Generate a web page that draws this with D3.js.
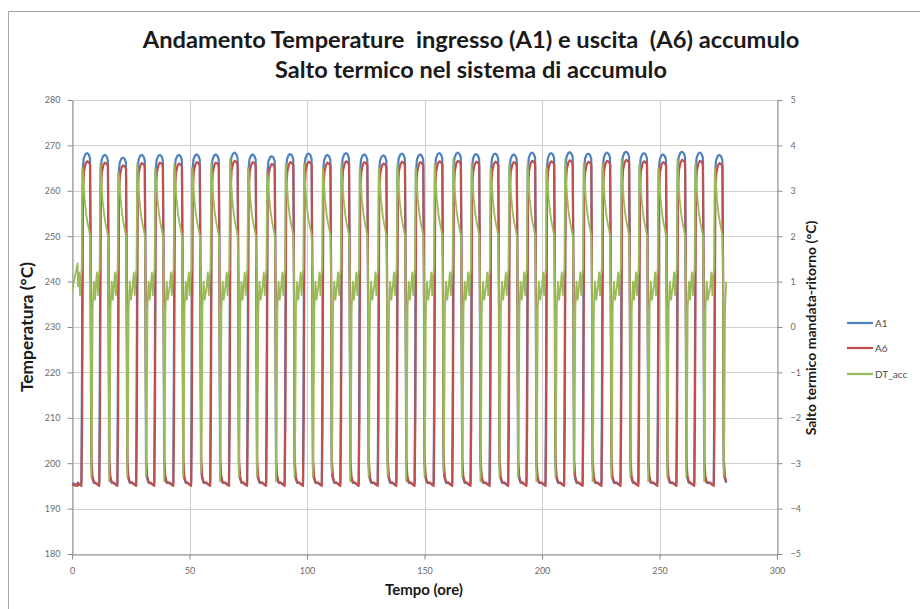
<!DOCTYPE html>
<html>
<head>
<meta charset="utf-8">
<script src="https://cdn.jsdelivr.net/npm/d3@7"></script>
<style>
  html, body { margin: 0; padding: 0; background: #fff; }
  svg { display: block; }
  text { font-family: Lato, "Open Sans", "DejaVu Sans", sans-serif; }
</style>
</head>
<body>
<svg id="chart" width="920" height="609"></svg>
<script>
// ---- data -------------------------------------------------------------
const seriesNames = ["A1", "A6", "DT_acc"];
const seriesColors = ["#4F81BD", "#C0504D", "#9BBB59"];

// time (h) of the top of each charge cycle
const cycleHours = [6.4, 14.0, 21.7, 29.7, 37.4, 45.5, 53.1, 61.2, 69.2, 76.9,
  85.0, 92.9, 100.7, 108.7, 116.6, 124.4, 132.5, 140.4, 148.2, 156.3,
  164.2, 172.0, 180.1, 188.0, 195.8, 203.9, 211.8, 219.7, 227.7, 235.8,
  243.4, 251.5, 259.6, 267.2, 275.5];

// maximum temperature per cycle (°C)
const a1Peaks = [268.3, 267.9, 267.3, 267.9, 267.9, 267.9, 268.0, 268.0, 268.4, 268.0,
  267.6, 268.1, 268.2, 267.9, 268.3, 268.0, 267.8, 268.2, 268.0, 268.3,
  268.4, 268.1, 268.2, 268.0, 268.4, 268.3, 268.5, 268.2, 268.4, 268.6,
  268.3, 268.0, 268.6, 268.4, 267.9];
const a6Peaks = [266.5, 266.2, 265.6, 266.1, 266.2, 266.0, 266.3, 266.2, 266.6, 266.3,
  265.9, 266.3, 266.4, 266.2, 266.5, 266.3, 266.0, 266.4, 266.3, 266.5,
  266.6, 266.4, 266.4, 266.3, 266.6, 266.5, 266.7, 266.4, 266.6, 266.8,
  266.5, 266.3, 266.8, 266.6, 266.1];
// minimum temperature between cycles (°C)
const a1Low = 195.3;
const a6Low = 195.0;

// largest positive / negative jump of DT per cycle (°C)
const dtPeaks = [3.5, 3.6, 3.4, 3.6, 3.5, 3.6, 3.5, 3.6, 3.7, 3.5,
  3.4, 3.6, 3.6, 3.5, 3.6, 3.5, 3.5, 3.6, 3.5, 3.6,
  3.7, 3.6, 3.5, 3.6, 3.6, 3.5, 3.7, 3.6, 3.6, 3.7,
  3.6, 3.5, 3.7, 3.6, 3.5];
const dtDips = [-3.3, -3.4, -3.3, -3.3, -3.4, -3.3, -3.2, -3.4, -3.3, -3.3,
  -3.4, -3.3, -3.3, -3.2, -3.4, -3.3, -3.3, -3.4, -3.3, -3.2,
  -3.3, -3.4, -3.3, -3.3, -3.4, -3.3, -3.2, -3.4, -3.3, -3.3,
  -3.4, -3.3, -3.3, -3.4, -3.3];

// profile of one cycle: hours from the top, share of the low→peak swing
const a1Profile = [[-3.9, 0.004], [-3.0, 0], [-2.4, 0.006], [-2.15, 0.35], [-1.85, 0.95],
  [-1.4, 0.985], [-0.7, 0.997], [0, 1], [0.7, 0.996], [1.25, 0.985], [1.5, 0.7],
  [1.8, 0.06], [2.2, 0.02], [2.9, 0.005]];
const a6Profile = [[-3.9, 0.01], [-3.0, 0.003], [-2.4, 0], [-2.1, 0.2], [-1.75, 0.9],
  [-1.3, 0.97], [-0.6, 0.993], [0, 1], [0.7, 0.997], [1.3, 0.99], [1.6, 0.6],
  [1.9, 0.08], [2.3, 0.03], [2.9, 0.012]];
// DT profile: hours from the top, value (°C); "peak"/"dip" take the per-cycle value
const dtProfile = [[-3.9, 0.9], [-3.4, 1.2], [-3.0, 0.7], [-2.6, 1.1], [-2.25, 1.3],
  [-1.95, "peak"], [-1.5, 3.2], [-1.0, 2.8], [-0.4, 2.5], [0.2, 2.3], [0.8, 2.15],
  [1.3, 2.0], [1.55, 1.2], [1.8, "dip"], [2.1, -2.2], [2.4, 0.4], [2.9, 1.0], [3.4, 0.6]];

// readings before the first cycle
const leadHours = [0, 1.2, 2.4];
const leadA1 = [195.6, 195.4, 195.3];
const leadA6 = [195.3, 195.1, 195.0];
const leadDT = [0.8, 1.1, 1.4];

const xTicks = [0, 50, 100, 150, 200, 250, 300];
const yLeftTicks = [180, 190, 200, 210, 220, 230, 240, 250, 260, 270, 280];
const yRightTicks = [-5, -4, -3, -2, -1, 0, 1, 2, 3, 4, 5];

// ---- series assembly -------------------------------------------------
function tempSeries(profile, peaks, low, leadVals) {
  const pts = leadHours.map((h, i) => ({ t: h, v: leadVals[i] }));
  cycleHours.forEach((c, k) => {
    profile.forEach(([dh, f]) => pts.push({ t: c + dh, v: low + f * (peaks[k] - low) }));
  });
  return pts;
}
function dtSeries() {
  const pts = leadHours.map((h, i) => ({ t: h, v: leadDT[i] }));
  cycleHours.forEach((c, k) => {
    dtProfile.forEach(([dh, v]) => {
      if (c + dh > 278.6) return;
      const val = v === "peak" ? dtPeaks[k] : v === "dip" ? dtDips[k] : v;
      pts.push({ t: c + dh, v: val });
    });
  });
  return pts;
}
const a1 = tempSeries(a1Profile, a1Peaks, a1Low, leadA1);
const a6 = tempSeries(a6Profile, a6Peaks, a6Low, leadA6);
const dt = dtSeries();

// ---- layout ----------------------------------------------------------
const svg = d3.select("#chart");
const L = 72, R = 777, T = 100, B = 554;

svg.append("rect").attr("x", 8.5).attr("y", 11.5).attr("width", 1000).attr("height", 700)
  .attr("fill", "#fff").attr("stroke", "#a6a6a6").attr("stroke-width", 1);

const x = d3.scaleLinear().domain([0, 300]).range([L, R]);
const yL = d3.scaleLinear().domain([180, 280]).range([B, T]);
const yR = d3.scaleLinear().domain([-5, 5]).range([B, T]);

// gridlines
const grid = svg.append("g").attr("stroke", "#cfcfcf").attr("stroke-width", 1);
yLeftTicks.forEach(v => grid.append("line")
  .attr("x1", L).attr("x2", R).attr("y1", Math.round(yL(v)) + 0.5).attr("y2", Math.round(yL(v)) + 0.5));
xTicks.forEach(v => grid.append("line")
  .attr("y1", T).attr("y2", B).attr("x1", Math.round(x(v)) + 0.5).attr("x2", Math.round(x(v)) + 0.5));

// axes
function styleAxis(g) {
  g.select(".domain").attr("stroke", "#8c8c8c");
  g.selectAll(".tick line").attr("stroke", "#8c8c8c");
  g.selectAll(".tick text").attr("fill", "#6b6b6b").attr("font-size", 9);
}
svg.append("g").attr("transform", `translate(0,${B + 0.5})`)
  .call(d3.axisBottom(x).tickValues(xTicks).tickSize(5).tickSizeOuter(0).tickPadding(8))
  .call(styleAxis);
svg.append("g").attr("transform", `translate(${L + 0.5},0)`)
  .call(d3.axisLeft(yL).tickValues(yLeftTicks).tickSize(5).tickSizeOuter(0).tickPadding(7))
  .call(styleAxis);
svg.append("g").attr("transform", `translate(${R + 0.5},0)`)
  .call(d3.axisRight(yR).tickValues(yRightTicks).tickSize(5).tickSizeOuter(0).tickPadding(8))
  .call(styleAxis);

// lines
const clip = svg.append("clipPath").attr("id", "plot")
  .append("rect").attr("x", L).attr("y", T - 5).attr("width", R - L).attr("height", B - T + 10);
const lineL = d3.line().x(d => x(d.t)).y(d => yL(d.v));
const lineR = d3.line().x(d => x(d.t)).y(d => yR(d.v));
const plot = svg.append("g").attr("clip-path", "url(#plot)");
plot.append("path").datum(a1).attr("d", lineL).attr("fill", "none")
  .attr("stroke", seriesColors[0]).attr("stroke-width", 2.2).attr("stroke-linejoin", "round");
plot.append("path").datum(a6).attr("d", lineL).attr("fill", "none")
  .attr("stroke", seriesColors[1]).attr("stroke-width", 2.2).attr("stroke-linejoin", "round");
plot.append("path").datum(dt).attr("d", lineR).attr("fill", "none")
  .attr("stroke", seriesColors[2]).attr("stroke-width", 1.8).attr("stroke-linejoin", "round");

// text helpers: fit a label to the width it takes in the layout
function fitText(sel, width) {
  const w = sel.node().getComputedTextLength();
  const fs = parseFloat(sel.attr("font-size"));
  sel.attr("font-size", (fs * width / w).toFixed(2));
}

const t1 = svg.append("text").attr("x", 471).attr("y", 48).attr("text-anchor", "middle")
  .attr("font-weight", "bold").attr("font-size", 18).attr("fill", "#1a1a1a")
  .style("white-space", "pre")
  .text("Andamento Temperature  ingresso (A1) e uscita  (A6) accumulo");
fitText(t1, 657);
const t2 = svg.append("text").attr("x", 471).attr("y", 78).attr("text-anchor", "middle")
  .attr("font-weight", "bold").attr("font-size", 18).attr("fill", "#1a1a1a")
  .text("Salto termico nel sistema di accumulo");
fitText(t2, 392);

const xt = svg.append("text").attr("x", 424).attr("y", 595).attr("text-anchor", "middle")
  .attr("font-weight", "bold").attr("font-size", 10).attr("fill", "#1a1a1a").text("Tempo (ore)");
fitText(xt, 78);
const ylt = svg.append("text").attr("transform", "translate(33,327) rotate(-90)")
  .attr("text-anchor", "middle").attr("font-weight", "bold").attr("font-size", 10)
  .attr("fill", "#1a1a1a").text("Temperatura (°C)");
fitText(ylt, 130);
const yrt = svg.append("text").attr("transform", "translate(816,328) rotate(-90)")
  .attr("text-anchor", "middle").attr("font-weight", "bold").attr("font-size", 10)
  .attr("fill", "#1a1a1a").text("Salto termico mandata-ritorno (°C)");
fitText(yrt, 215);

// legend
const legendY = [323, 348, 374];
seriesNames.forEach((n, i) => {
  svg.append("line").attr("x1", 847).attr("x2", 873).attr("y1", legendY[i]).attr("y2", legendY[i])
    .attr("stroke", seriesColors[i]).attr("stroke-width", 2.2);
  svg.append("text").attr("x", 875).attr("y", legendY[i] + 3.5).attr("font-size", 10)
    .attr("fill", "#4a4a4a").text(n);
});
</script>
</body>
</html>
